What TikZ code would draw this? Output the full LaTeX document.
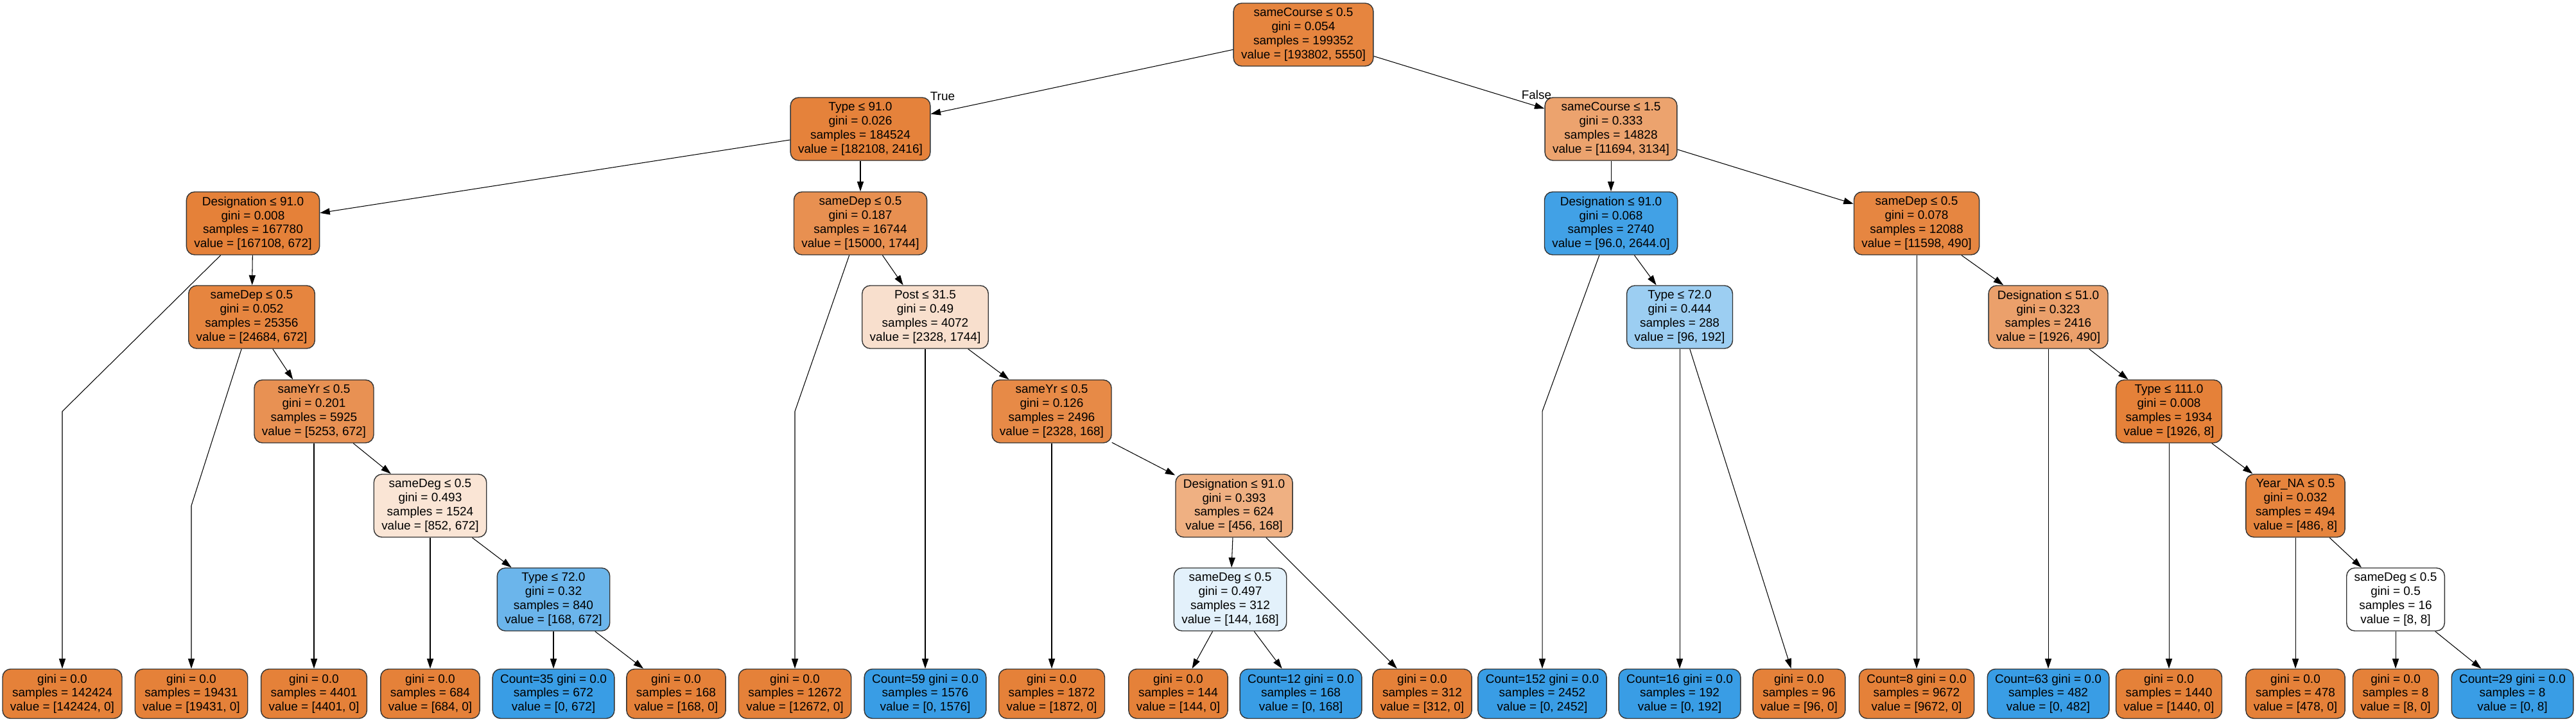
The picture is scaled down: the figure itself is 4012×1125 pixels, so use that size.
\documentclass[tikz,border=0pt]{standalone}
\usepackage{fontspec}
\setmainfont{Liberation Sans}
\usetikzlibrary{arrows.meta}
\definecolor{clsa}{HTML}{E58139}
\definecolor{clsb}{HTML}{399DE5}

\begin{document}
\begin{tikzpicture}[x=0.01cm, y=-0.01cm,
    font=\fontsize{5.4pt}{6.2pt}\selectfont,
    split/.style ={rectangle, rounded corners=3.6pt, draw=black!80, line width=0.4pt, align=center, inner xsep=3.4pt, inner ysep=1pt, minimum height=0.98cm},
    leaf/.style ={split, minimum height=0.77cm},
    edge/.style ={-{Triangle[length=4.4pt,width=2.9pt]}, line width=0.3pt}]
   \useasboundingbox (0,0) rectangle (4012,1125);

   \node[split, fill=clsa!97] (root) at (2030,54) {sameCourse ≤ 0.5\\gini = 0.054\\samples = 199352\\value = [193802, 5550]};

   \node[split, fill=clsa!99] (t91)  at (1340,201) {Type ≤ 91.0\\gini = 0.026\\samples = 184524\\value = [182108, 2416]};
   \node[split, fill=clsa!73] (sc15) at (2509,201) {sameCourse ≤ 1.5\\gini = 0.333\\samples = 14828\\value = [11694, 3134]};

   \node[split, fill=clsa]    (d91a)  at (394,348)  {Designation ≤ 91.0\\gini = 0.008\\samples = 167780\\value = [167108, 672]};
   \node[split, fill=clsa!88] (sd187) at (1340,348) {sameDep ≤ 0.5\\gini = 0.187\\samples = 16744\\value = [15000, 1744]};
   \node[split, fill=clsb!96] (d91b)  at (2509,348) {Designation ≤ 91.0\\gini = 0.068\\samples = 2740\\value = [96.0, 2644.0]};
   \node[split, fill=clsa!96] (sd078) at (2985,348) {sameDep ≤ 0.5\\gini = 0.078\\samples = 12088\\value = [11598, 490]};

   \node[split, fill=clsa!97] (sd052) at (392,494)  {sameDep ≤ 0.5\\gini = 0.052\\samples = 25356\\value = [24684, 672]};
   \node[split, fill=clsa!25] (post)  at (1441,494) {Post ≤ 31.5\\gini = 0.49\\samples = 4072\\value = [2328, 1744]};
   \node[split, fill=clsb!50] (t72b)  at (2616,494) {Type ≤ 72.0\\gini = 0.444\\samples = 288\\value = [96, 192]};
   \node[split, fill=clsa!75] (d51)   at (3190,494) {Designation ≤ 51.0\\gini = 0.323\\samples = 2416\\value = [1926, 490]};

   \node[split, fill=clsa!87] (yr201) at (489,641)  {sameYr ≤ 0.5\\gini = 0.201\\samples = 5925\\value = [5253, 672]};
   \node[split, fill=clsa!93] (yr126) at (1638,641) {sameYr ≤ 0.5\\gini = 0.126\\samples = 2496\\value = [2328, 168]};
   \node[split, fill=clsa]    (t111)  at (3378,641) {Type ≤ 111.0\\gini = 0.008\\samples = 1934\\value = [1926, 8]};

   \node[split, fill=clsa!21] (dg493) at (670,788)  {sameDeg ≤ 0.5\\gini = 0.493\\samples = 1524\\value = [852, 672]};
   \node[split, fill=clsa!63] (d393)  at (1922,788) {Designation ≤ 91.0\\gini = 0.393\\samples = 624\\value = [456, 168]};
   \node[split, fill=clsa!98] (yna)   at (3575,788) {Year\_NA ≤ 0.5\\gini = 0.032\\samples = 494\\value = [486, 8]};

   \node[split, fill=clsb!75] (t72a)  at (862,934)  {Type ≤ 72.0\\gini = 0.32\\samples = 840\\value = [168, 672]};
   \node[split, fill=clsb!14] (dg497) at (1916,934) {sameDeg ≤ 0.5\\gini = 0.497\\samples = 312\\value = [144, 168]};
   \node[split, fill=white]   (dg5)   at (3731,934) {sameDeg ≤ 0.5\\gini = 0.5\\samples = 16\\value = [8, 8]};

   \node[leaf, fill=clsa] (l1)  at (97,1081)   {gini = 0.0\\samples = 142424\\value = [142424, 0]};
   \node[leaf, fill=clsa] (l2)  at (298,1081)  {gini = 0.0\\samples = 19431\\value = [19431, 0]};
   \node[leaf, fill=clsa] (l3)  at (489,1081)  {gini = 0.0\\samples = 4401\\value = [4401, 0]};
   \node[leaf, fill=clsa] (l4)  at (670,1081)  {gini = 0.0\\samples = 684\\value = [684, 0]};
   \node[leaf, fill=clsb] (l5)  at (862,1081)  {Count=35 gini = 0.0\\samples = 672\\value = [0, 672]};
   \node[leaf, fill=clsa] (l6)  at (1053,1081) {gini = 0.0\\samples = 168\\value = [168, 0]};
   \node[leaf, fill=clsa] (l7)  at (1238,1081) {gini = 0.0\\samples = 12672\\value = [12672, 0]};
   \node[leaf, fill=clsb] (l8)  at (1441,1081) {Count=59 gini = 0.0\\samples = 1576\\value = [0, 1576]};
   \node[leaf, fill=clsa] (l9)  at (1638,1081) {gini = 0.0\\samples = 1872\\value = [1872, 0]};
   \node[leaf, fill=clsa] (l10) at (1835,1081) {gini = 0.0\\samples = 144\\value = [144, 0]};
   \node[leaf, fill=clsb] (l11) at (2026,1081) {Count=12 gini = 0.0\\samples = 168\\value = [0, 168]};
   \node[leaf, fill=clsa] (l12) at (2215,1081) {gini = 0.0\\samples = 312\\value = [312, 0]};
   \node[leaf, fill=clsb] (l13) at (2402,1081) {Count=152 gini = 0.0\\samples = 2452\\value = [0, 2452]};
   \node[leaf, fill=clsb] (l14) at (2616,1081) {Count=16 gini = 0.0\\samples = 192\\value = [0, 192]};
   \node[leaf, fill=clsa] (l15) at (2802,1081) {gini = 0.0\\samples = 96\\value = [96, 0]};
   \node[leaf, fill=clsa] (l16) at (2985,1081) {Count=8 gini = 0.0\\samples = 9672\\value = [9672, 0]};
   \node[leaf, fill=clsb] (l17) at (3190,1081) {Count=63 gini = 0.0\\samples = 482\\value = [0, 482]};
   \node[leaf, fill=clsa] (l18) at (3378,1081) {gini = 0.0\\samples = 1440\\value = [1440, 0]};
   \node[leaf, fill=clsa] (l19) at (3575,1081) {gini = 0.0\\samples = 478\\value = [478, 0]};
   \node[leaf, fill=clsa] (l20) at (3731,1081) {gini = 0.0\\samples = 8\\value = [8, 0]};
   \node[leaf, fill=clsb] (l21) at (3913,1081) {Count=29 gini = 0.0\\samples = 8\\value = [0, 8]};

   \node (ltrue)  at (1468,150) {True};
   \node (lfalse) at (2393,148) {False};

   \draw[edge] (root) to (t91);
   \draw[edge] (root) to (sc15);
   \draw[edge] (t91) to (d91a);
   \draw[edge] (t91) to (sd187);
   \draw[edge] (sc15) to (d91b);
   \draw[edge] (sc15) to (sd078);

   \draw[edge] (d91a) -- (l1 |- yr201) -- (l1);
   \draw[edge] (d91a) to (sd052);
   \draw[edge] (sd052) -- (l2 |- dg493) -- (l2);
   \draw[edge] (sd052) to (yr201);
   \draw[edge] (yr201) to (l3);
   \draw[edge] (yr201) to (dg493);
   \draw[edge] (dg493) to (l4);
   \draw[edge] (dg493) to (t72a);
   \draw[edge] (t72a) to (l5);
   \draw[edge] (t72a) to (l6);

   \draw[edge] (sd187) -- (l7 |- yr126) -- (l7);
   \draw[edge] (sd187) to (post);
   \draw[edge] (post) to (l8);
   \draw[edge] (post) to (yr126);
   \draw[edge] (yr126) to (l9);
   \draw[edge] (yr126) to (d393);
   \draw[edge] (d393) to (dg497);
   \draw[edge] (d393) to (l12);
   \draw[edge] (dg497) to (l10);
   \draw[edge] (dg497) to (l11);

   \draw[edge] (d91b) -- (l13 |- t111) -- (l13);
   \draw[edge] (d91b) to (t72b);
   \draw[edge] (t72b) to (l14);
   \draw[edge] (t72b) to (l15);
   \draw[edge] (sd078) to (l16);
   \draw[edge] (sd078) to (d51);
   \draw[edge] (d51) to (l17);
   \draw[edge] (d51) to (t111);
   \draw[edge] (t111) to (l18);
   \draw[edge] (t111) to (yna);
   \draw[edge] (yna) to (l19);
   \draw[edge] (yna) to (dg5);
   \draw[edge] (dg5) to (l20);
   \draw[edge] (dg5) to (l21);
 \end{tikzpicture}
\end{document}
